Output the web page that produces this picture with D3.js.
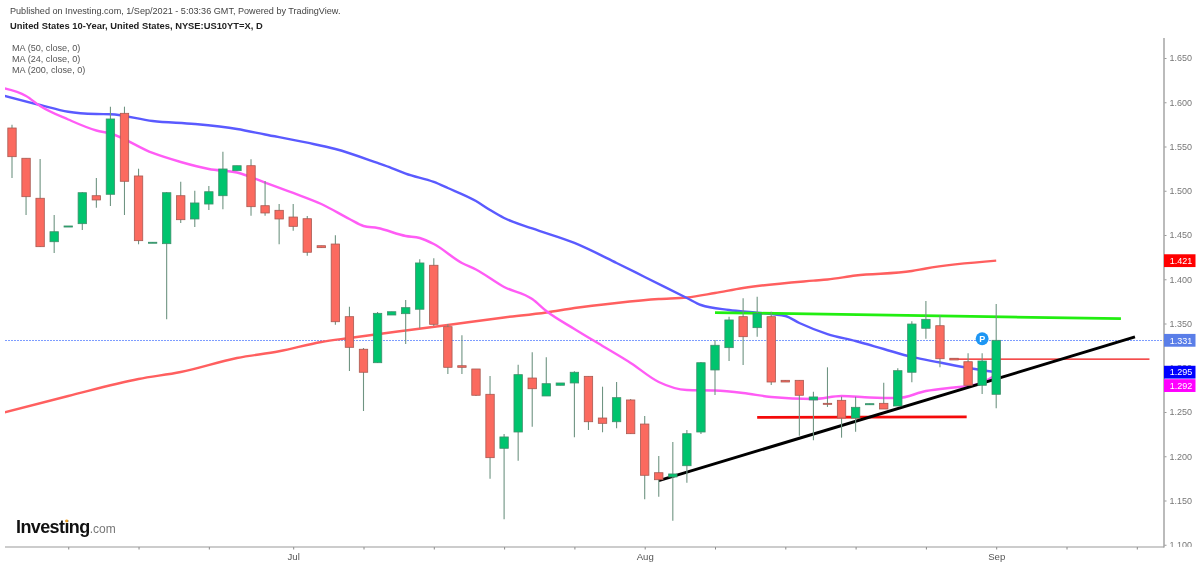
<!DOCTYPE html>
<html>
<head>
<meta charset="utf-8">
<script src="https://cdn.jsdelivr.net/npm/d3@7"></script>
<style>
  html, body { margin: 0; padding: 0; background: #fff; }
  svg { display: block; font-family: "Liberation Sans", Arial, sans-serif; filter: blur(0.4px); }
</style>
</head>
<body>
<div id="chart"></div>
<script>
// candles, one entry per session
const opens = [1.5709,1.5367,1.4915,1.4424,1.4590,1.4628,1.4944,1.4960,1.5875,1.5167,1.4410,1.4402,1.4944,1.4681,1.4850,1.4944,1.5227,1.5283,1.4831,1.4779,1.4703,1.4684,1.4379,1.4398,1.3577,1.3209,1.3057,1.3596,1.3611,1.3661,1.4158,1.3464,1.3023,1.2986,1.2700,1.2090,1.2274,1.2884,1.2681,1.2802,1.2828,1.2903,1.2432,1.2390,1.2636,1.2364,1.1814,1.1766,1.1893,1.2274,1.2975,1.3227,1.3577,1.3453,1.3577,1.2858,1.2858,1.2636,1.2598,1.2632,1.2432,1.2582,1.2598,1.2568,1.2949,1.3446,1.3475,1.3107,1.3068,1.2802,1.2700];
const closes = [1.5385,1.4933,1.4368,1.4537,1.4602,1.4978,1.4896,1.5811,1.5107,1.4436,1.4418,1.4978,1.4673,1.4862,1.4989,1.5246,1.5283,1.4820,1.4749,1.4681,1.4598,1.4305,1.4357,1.3520,1.3231,1.2949,1.3615,1.3633,1.3679,1.4184,1.3491,1.3005,1.3005,1.2689,1.1984,1.2218,1.2922,1.2763,1.2820,1.2828,1.2949,1.2390,1.2372,1.2662,1.2255,1.1785,1.1735,1.1800,1.2255,1.3057,1.3254,1.3540,1.3351,1.3615,1.2839,1.2839,1.2689,1.2670,1.2595,1.2432,1.2553,1.2594,1.2534,1.2967,1.3494,1.3547,1.3102,1.3088,1.2802,1.3076,1.3310];
const highs = [1.5746,1.5367,1.5359,1.4726,1.4602,1.4985,1.5144,1.5950,1.5950,1.5249,1.4418,1.4986,1.5102,1.5001,1.5054,1.5441,1.5283,1.5355,1.5110,1.4850,1.4850,1.4715,1.4379,1.4497,1.3690,1.3223,1.3630,1.3633,1.3766,1.4225,1.4237,1.3494,1.3367,1.2986,1.2907,1.2252,1.3034,1.3175,1.3118,1.2828,1.2960,1.2903,1.2786,1.2839,1.2647,1.2455,1.2003,1.2161,1.2297,1.3065,1.3314,1.3577,1.3785,1.3803,1.3633,1.2858,1.2858,1.2729,1.3005,1.2673,1.2673,1.2594,1.2831,1.2994,1.3525,1.3754,1.3596,1.3107,1.3163,1.3163,1.3720];
const lows = [1.5144,1.4726,1.4364,1.4297,1.4590,1.4557,1.4809,1.4828,1.4726,1.4395,1.4410,1.3547,1.4636,1.4590,1.4783,1.4790,1.5227,1.4718,1.4718,1.4395,1.4549,1.4266,1.4357,1.3487,1.2963,1.2511,1.3054,1.3596,1.3268,1.3446,1.3472,1.2929,1.2929,1.2681,1.1746,1.1288,1.1950,1.2334,1.2681,1.2802,1.2214,1.2297,1.2271,1.2316,1.2252,1.1514,1.1543,1.1272,1.1701,1.2252,1.2692,1.3076,1.3031,1.3351,1.2805,1.2839,1.2232,1.2180,1.2557,1.2210,1.2278,1.2582,1.2534,1.2568,1.2836,1.3328,1.3005,1.3088,1.2794,1.2703,1.2542];

// moving averages, session number and value
const ma50Days = [-1,2,4,6,7,10,13,16,18,21,23,26,27,28,30,31,33,34,35,37,40,43,45,48,49,51,53,55,56,58,60,62,64,66,68,70];
const ma50Values = [1.6093,1.5969,1.5893,1.5867,1.5864,1.5788,1.5754,1.5698,1.5636,1.5543,1.5472,1.5314,1.5257,1.5193,1.5099,1.5031,1.4884,1.4783,1.4692,1.4574,1.4410,1.4184,1.4026,1.3788,1.3709,1.3653,1.3622,1.3585,1.3506,1.3381,1.3302,1.3212,1.3122,1.3059,1.2997,1.295];
const ma24Days = [-1,1,2,4,6,7,10,12,14,16,18,20,22,24,25,26,28,29,30,32,33,35,37,38,40,42,44,46,48,50,52,54,57,59,61,63,65,67,68,69,70];
const ma24Values = [1.6172,1.6071,1.5958,1.5805,1.5681,1.5647,1.5427,1.5325,1.5246,1.5206,1.5093,1.4975,1.4850,1.4681,1.4602,1.4579,1.4489,1.4466,1.4398,1.4184,1.4110,1.3913,1.3777,1.3641,1.3438,1.3246,1.3054,1.2839,1.2749,1.2743,1.2715,1.2670,1.2647,1.2681,1.2664,1.2658,1.2737,1.2777,1.2794,1.2833,1.292];
const ma200Days = [-1,4,9,12,16,19,22,24,28,31,35,38,40,43,46,48,50,52,57,58,60,64,65,70];
const ma200Values = [1.2477,1.2681,1.2873,1.2952,1.3110,1.3186,1.3291,1.3336,1.3421,1.3483,1.3568,1.3624,1.3675,1.3732,1.3777,1.3794,1.3845,1.3901,1.3984,1.3997,1.4042,1.4093,1.4122,1.421];

// lines drawn by hand on the chart: [from day, from value, to day, to value]
const greenTrend = [50,1.3624,78.87,1.3554];
const redSupport = [53,1.2440,67.9,1.2444];
const blackTrend = [46,1.1724,79.87,1.3348];
const thinRedLine = [66.7,1.3097,80.9,1.3097];

const yTicks = [1.10,1.15,1.20,1.25,1.30,1.35,1.40,1.45,1.50,1.55,1.60,1.65];
const xTickDays = [4,9,14,20,25,30,35,40,45,50,55,60,65,70,75,80];
const xTickLabels = {20:"Jul",45:"Aug",70:"Sep"};
const lastPrice = 1.331;
const legendLines = ["MA (50, close, 0)","MA (24, close, 0)","MA (200, close, 0)"];

const width = 1200, height = 566;
const plot = {left:5, right:1164, bottom:547, top:38};

const svg = d3.select("#chart").append("svg")
    .attr("width", width)
    .attr("height", height);

const xScale = d3.scaleLinear().domain([0,70]).range([12,996.2]);
const yScale = d3.scaleLinear().domain([1.10,1.65]).range([544.75,58]);

svg.append("clipPath").attr("id","plotClip")
    .append("rect")
    .attr("x",plot.left).attr("y",plot.top)
    .attr("width",plot.right-plot.left).attr("height",plot.bottom-plot.top);
// used inside the axis group, so x starts at 0 there
svg.append("clipPath").attr("id","axisClip")
    .append("rect")
    .attr("x",0).attr("y",plot.top)
    .attr("width",width-plot.right).attr("height",plot.bottom-plot.top);

const chart = svg.append("g").attr("clip-path","url(#plotClip)");

// last price line
chart.append("line")
    .attr("x1",plot.left).attr("x2",plot.right)
    .attr("y1",Math.round(yScale(lastPrice))+0.5).attr("y2",Math.round(yScale(lastPrice))+0.5)
    .attr("stroke","#7d9dff").attr("stroke-width",1).attr("stroke-dasharray","2,1");

// moving averages
const line = d3.line().x(d => xScale(d[0])).y(d => yScale(d[1])).curve(d3.curveMonotoneX);
function drawMa(days, values, color){
    chart.append("path")
        .datum(days.map((d,i) => [d,values[i]]))
        .attr("fill","none")
        .attr("stroke",color)
        .attr("stroke-width",2.4)
        .attr("stroke-linejoin","round")
        .attr("d",line);
}
drawMa(ma200Days, ma200Values, "#ff5f5f");
drawMa(ma50Days, ma50Values, "#5a5aff");
drawMa(ma24Days, ma24Values, "#ff5cf5");

// hand drawn lines
function drawTrend(t, color, w){
    chart.append("line")
        .attr("x1",xScale(t[0])).attr("y1",yScale(t[1]))
        .attr("x2",xScale(t[2])).attr("y2",yScale(t[3]))
        .attr("stroke",color).attr("stroke-width",w);
}
drawTrend(thinRedLine,"#f01010",1.2);
drawTrend(greenTrend,"#22ee11",2.8);
drawTrend(redSupport,"#f40a0a",2.8);
drawTrend(blackTrend,"#000",2.9);

// candles
const candles = opens.map((o,i) => ({i:i, o:o, c:closes[i], h:highs[i], l:lows[i]}));
const bodyW = 8.4;
chart.append("g").selectAll("line").data(candles).join("line")
    .attr("x1",d => xScale(d.i)).attr("x2",d => xScale(d.i))
    .attr("y1",d => yScale(d.h)).attr("y2",d => yScale(d.l))
    .attr("stroke","#6f9482").attr("stroke-width",1.1);
chart.append("g").selectAll("rect").data(candles).join("rect")
    .attr("x",d => xScale(d.i)-bodyW/2)
    .attr("width",bodyW)
    .attr("y",d => yScale(Math.max(d.o,d.c)))
    .attr("height",d => Math.max(Math.abs(yScale(d.o)-yScale(d.c)),1))
    .attr("fill",d => d.c >= d.o ? "#00c46e" : "#fb6a5f")
    .attr("stroke",d => d.c >= d.o ? "#3f8f6c" : "#a85a52")
    .attr("stroke-width",0.8);

// published marker over the last but one candle
const marker = svg.append("g")
    .attr("transform",`translate(${xScale(69)},${yScale(1.3328)})`);
marker.append("circle").attr("r",6.5).attr("fill","#1e96f3");
marker.append("text").text("P")
    .attr("text-anchor","middle").attr("y",3.3)
    .attr("font-size",9).attr("font-weight","bold").attr("fill","#fff");

// axes
const yAxis = svg.append("g")
    .attr("transform",`translate(${plot.right},0)`)
    .attr("clip-path","url(#axisClip)")
    .call(d3.axisRight(yScale).tickValues(yTicks).tickFormat(d3.format(".3f")).tickSize(2.5).tickPadding(3));
yAxis.select(".domain").remove();
yAxis.selectAll("line").attr("stroke","#999");
yAxis.selectAll("text").attr("fill","#777").attr("font-size",9).attr("font-family","inherit");

svg.append("line")
    .attr("x1",plot.right).attr("x2",plot.right)
    .attr("y1",plot.top).attr("y2",plot.bottom+0.5)
    .attr("stroke","#aaa").attr("stroke-width",1.6);

const xAxis = svg.append("g")
    .attr("transform",`translate(0,${plot.bottom})`)
    .call(d3.axisBottom(xScale).tickValues(xTickDays).tickFormat(d => xTickLabels[d] || "").tickSize(2.5).tickPadding(4));
xAxis.select(".domain").remove();
xAxis.selectAll("line").attr("stroke","#888");
xAxis.selectAll("text").attr("fill","#555").attr("font-size",9.6).attr("font-family","inherit");

svg.append("line")
    .attr("x1",plot.left).attr("x2",plot.right)
    .attr("y1",plot.bottom).attr("y2",plot.bottom)
    .attr("stroke","#999").attr("stroke-width",1);

// value tags on the axis, pushed down when they would overlap
const tags = [
    {v:1.421, color:"#ff0000"},
    {v:lastPrice, color:"#5a7ee8"},
    {v:1.295, color:"#0000ff"},
    {v:1.292, color:"#ff00ff"}
];
let lastY = -100;
tags.forEach(t => {
    let y = yScale(t.v);
    if (y - lastY < 13.4) y = lastY + 13.4;
    lastY = y;
    svg.append("rect")
        .attr("x",plot.right).attr("y",y-6.4)
        .attr("width",31.5).attr("height",12.8)
        .attr("fill",t.color);
    svg.append("text").text(t.v.toFixed(3))
        .attr("x",plot.right+5.8).attr("y",y+3.2)
        .attr("font-size",9).attr("fill","#fff");
});

// header text
svg.append("text").text("Published on Investing.com, 1/Sep/2021 - 5:03:36 GMT, Powered by TradingView.")
    .attr("x",10).attr("y",14).attr("font-size",9.1).attr("fill","#444");
svg.append("text").text("United States 10-Year, United States, NYSE:US10YT=X, D")
    .attr("x",10).attr("y",29).attr("font-size",9.35).attr("font-weight","bold").attr("fill","#222");
legendLines.forEach((t,i) => {
    svg.append("text").text(t)
        .attr("x",12).attr("y",51+i*11)
        .attr("font-size",9.1).attr("fill","#555");
});

// logo
const logo = svg.append("text").attr("x",16).attr("y",533);
logo.append("tspan").text("Investing")
    .attr("font-size",18).attr("font-weight","bold").attr("fill","#111").attr("letter-spacing","-0.6");
logo.append("tspan").text(".com")
    .attr("font-size",12).attr("fill","#777");
svg.append("circle").attr("cx",66.7).attr("cy",521).attr("r",1.4).attr("fill","#f5a623");
</script>
</body>
</html>
